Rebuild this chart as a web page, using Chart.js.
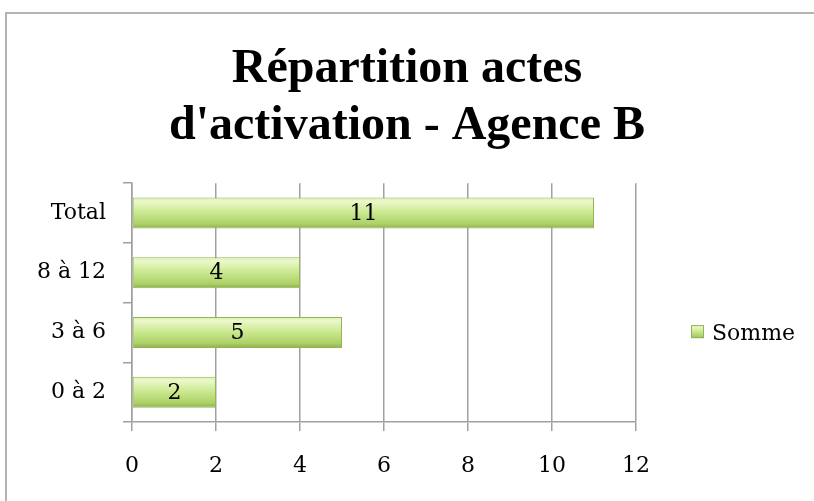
<!DOCTYPE html>
<html>
<head>
<meta charset="utf-8">
<script src="https://cdn.jsdelivr.net/npm/chart.js@4.4.0/dist/chart.umd.min.js"></script>
<style>
  html, body { margin: 0; padding: 0; background: #fff; overflow: hidden; }
  #frame { position: absolute; left: 5px; top: 12px; width: 1000px; height: 1000px; border: 2px solid #b4b4b4; }
  #wrap { position: absolute; left: 0; top: 0; width: 814px; height: 501px; }
</style>
</head>
<body>
<div id="frame"></div>
<div id="wrap"><canvas id="chart" width="814" height="501"></canvas></div>
<script>
// data
const titleLines = ["Répartition actes", "d'activation - Agence B"];
const categories = ["Total", "8 à 12", "3 à 6", "0 à 2"];
const sommeValues = [11, 4, 5, 2];
const seriesName = "Somme";
const xTicks = [0, 2, 4, 6, 8, 10, 12];

const serif = "'DejaVu Serif', serif";
const barShare = 0.52;

// green bevel-ish fill, top light to bottom darker
function greenFill(ctx2d, top, bottom) {
    const g = ctx2d.createLinearGradient(0, top, 0, bottom);
    g.addColorStop(0, "#d8f0a8");
    g.addColorStop(0.12, "#ecf8cc");
    g.addColorStop(0.45, "#cdea94");
    g.addColorStop(0.85, "#acd166");
    g.addColorStop(1, "#8caf4c");
    return g;
}

// value written in the middle of each bar
const barLabels = {
    id: "barLabels",
    afterDatasetsDraw(chart) {
        const ctx = chart.ctx;
        const meta = chart.getDatasetMeta(0);
        ctx.save();
        ctx.font = "22px " + serif;
        ctx.fillStyle = "#000";
        ctx.textAlign = "center";
        ctx.textBaseline = "middle";
        meta.data.forEach((bar, i) => {
            const cx = (bar.x + bar.base) / 2;
            ctx.fillText(String(chart.data.datasets[0].data[i]), cx, bar.y + 1);
        });
        ctx.restore();
    }
};

// single-entry legend on the right
const sideLegend = {
    id: "sideLegend",
    afterDraw(chart) {
        const ctx = chart.ctx;
        const area = chart.chartArea;
        const x = area.right + 55;
        const y = (area.top + area.bottom) / 2 + 29;
        const size = 13;
        ctx.save();
        ctx.fillStyle = greenFill(ctx, y - size / 2, y + size / 2);
        ctx.fillRect(x, y - size / 2, size, size);
        ctx.strokeStyle = "#94b457";
        ctx.lineWidth = 1;
        ctx.strokeRect(x + 0.5, y - size / 2 + 0.5, size - 1, size - 1);
        ctx.font = "22px " + serif;
        ctx.fillStyle = "#000";
        ctx.textAlign = "left";
        ctx.textBaseline = "middle";
        ctx.fillText(chart.data.datasets[0].label, x + 21, y + 3);
        ctx.restore();
    }
};

document.addEventListener("DOMContentLoaded", function() {
    const chartCtx = document.getElementById("chart").getContext("2d");
    new Chart(chartCtx, {
        type: "bar",
        data: {
            labels: categories,
            datasets: [{
                label: seriesName,
                data: sommeValues,
                backgroundColor: function(c) {
                    const chart = c.chart;
                    if (c.type !== "data" || !chart.chartArea || !chart.scales.y) return "#c8e690";
                    const yc = chart.scales.y.getPixelForValue(c.dataIndex);
                    const half = chart.chartArea.height / categories.length * barShare / 2;
                    return greenFill(chart.ctx, yc - half, yc + half);
                },
                borderColor: "#94b457",
                borderWidth: 1,
                borderSkipped: false,
                categoryPercentage: 1,
                barPercentage: barShare
            }]
        },
        options: {
            indexAxis: "y",
            responsive: false,
            animation: false,
            layout: { padding: 0 },
            plugins: {
                legend: { display: false },
                tooltip: { enabled: false },
                title: {
                    display: true,
                    text: titleLines,
                    color: "#000",
                    font: { family: "'Liberation Serif', serif", size: 48, weight: "bold", lineHeight: 1.19 },
                    padding: { top: 41, bottom: 28 }
                }
            },
            scales: {
                x: {
                    min: 0,
                    max: 12,
                    afterBuildTicks: function(scale) {
                        scale.ticks = xTicks.map(v => ({ value: v }));
                    },
                    afterFit: function(scale) { scale.height = 79; },
                    grid: { color: "#a0a0a0", lineWidth: 1.5, tickLength: 9, drawTicks: true },
                    border: { color: "#a0a0a0", width: 1.5 },
                    ticks: { color: "#000", padding: 22, font: { family: serif, size: 22 } }
                },
                y: {
                    afterFit: function(scale) { scale.width = 132; },
                    grid: { display: true, drawOnChartArea: false, offset: true, tickLength: 9, color: "#a0a0a0", lineWidth: 1.5 },
                    border: { color: "#a0a0a0", width: 1.5 },
                    ticks: { color: "#000", padding: 17, font: { family: serif, size: 22 } }
                },
                // empty right-hand strip that holds the legend
                legendSpace: {
                    type: "linear",
                    position: "right",
                    axis: "y",
                    display: true,
                    grid: { display: false },
                    border: { display: false },
                    ticks: { display: false },
                    afterFit: function(scale) { scale.width = 178; }
                }
            }
        },
        plugins: [barLabels, sideLegend]
    });
});
</script>
</body>
</html>
